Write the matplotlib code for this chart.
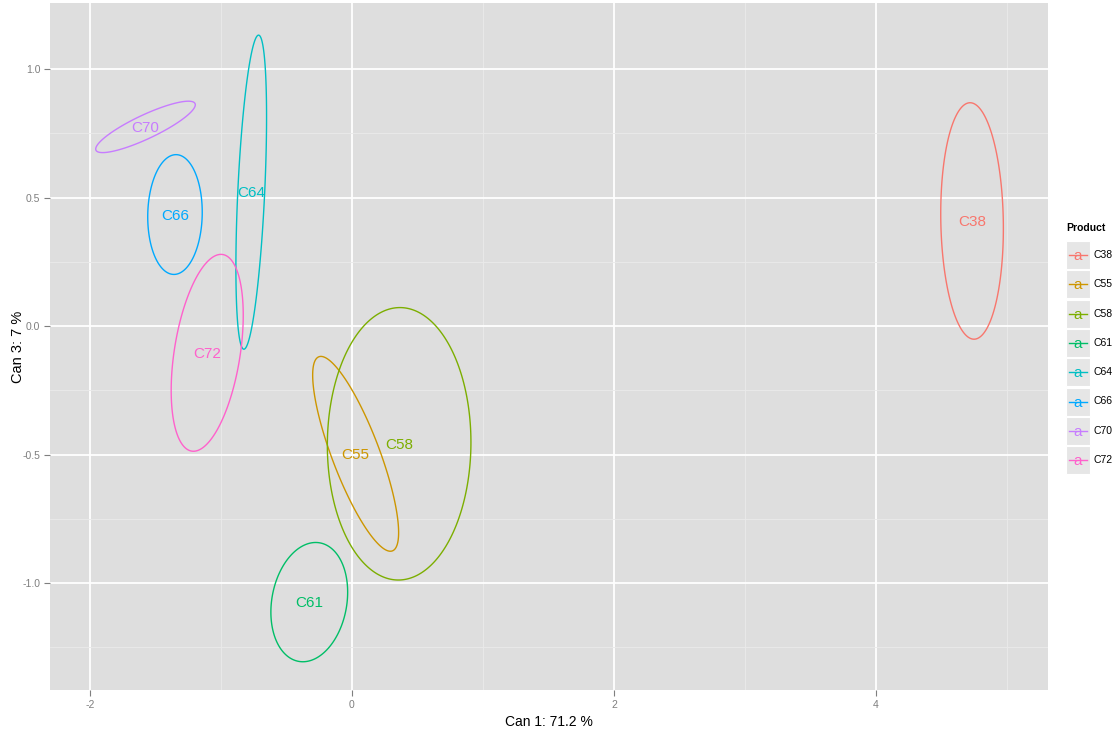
import numpy as np
import matplotlib
matplotlib.use("Agg")
from matplotlib import pyplot as plt
from matplotlib.patches import Rectangle

plt.rcParams['font.family'] = ['Liberation Sans', 'DejaVu Sans']

# ellipse summaries (canonical scores)
products = ['C38', 'C55', 'C58', 'C61', 'C64', 'C66', 'C70', 'C72']
center_x = [4.733, 0.028, 0.360, -0.326, -0.769, -1.351, -1.576, -1.105]
center_y = [0.409, -0.497, -0.458, -1.074, 0.521, 0.434, 0.775, -0.104]
half_w = [0.239, 0.328, 0.548, 0.293, 0.117, 0.208, 0.380, 0.275]
half_h = [0.460, 0.379, 0.530, 0.232, 0.611, 0.233, 0.100, 0.383]
top_dx = [-0.015, -0.265, 0.006, 0.049, 0.056, 0.008, 0.327, 0.105]
colors = ['#F8766D', '#CD9600', '#7CAE00', '#00BE67',
          '#00BFC4', '#00A9FF', '#C77CFF', '#FF61CC']

x_ticks = [-2, 0, 2, 4]
y_ticks = [-1.0, -0.5, 0.0, 0.5, 1.0]

fig = plt.figure(figsize=(11.16, 7.35), dpi=100)
ax = fig.add_axes([0.0448, 0.0612, 0.8943, 0.9347])
ax.set_facecolor('#DEDEDE')

t = np.linspace(0, 2 * np.pi, 300, endpoint=False)
for i, p in enumerate(products):
    delta = np.arccos(top_dx[i] / half_w[i])
    ex = center_x[i] + half_w[i] * np.cos(t)
    ey = center_y[i] + half_h[i] * np.cos(t - delta)
    ax.fill(ex, ey, fill=False, edgecolor=colors[i], lw=1.0, zorder=3,
            joinstyle='round')
    ax.text(center_x[i], center_y[i] - 0.005, p, color=colors[i], fontsize=11,
            ha='center', va='center', zorder=4)

ax.set_xlim(-2.305, 5.313)
ax.set_ylim(-1.416, 1.257)
ax.set_xticks(x_ticks)
ax.set_xticklabels([str(v) for v in x_ticks])
ax.set_yticks(y_ticks)
ax.set_yticklabels(['%.1f' % v for v in y_ticks])
ax.set_xticks([-1, 1, 3, 5], minor=True)
ax.set_yticks([-1.25, -0.75, -0.25, 0.25, 0.75], minor=True)
ax.grid(which='major', color='white', lw=1.3, zorder=1)
ax.grid(which='minor', color='#EAEAEA', lw=0.6, zorder=1)
ax.set_axisbelow(True)
ax.tick_params(which='major', length=4, width=0.8, color='#7F7F7F',
               labelcolor='#7F7F7F', labelsize=7.5, pad=3)
ax.tick_params(which='minor', length=0)
for s in ax.spines.values():
    s.set_visible(False)
ax.set_xlabel('Can 1: 71.2 %', fontsize=10, labelpad=4)
ax.set_ylabel('Can 3: 7 %', fontsize=10.5, labelpad=-2)

# legend drawn by hand in ggplot style
W, H = 1116.0, 735.0
fig.text(1066 / W, 1 - 228 / H, 'Product', fontsize=7.5, fontweight='bold',
         ha='left', va='center')
for i, p in enumerate(products):
    yc = 255 + i * 29.3
    fig.patches.append(Rectangle((1066 / W, 1 - (yc + 14) / H), 24 / W, 28 / H,
                                 transform=fig.transFigure, facecolor='#E6E6E6',
                                 edgecolor='white', lw=0.8))
    fig.lines.append(plt.Line2D([1069 / W, 1087 / W], [1 - yc / H, 1 - yc / H],
                                transform=fig.transFigure, color=colors[i], lw=1.0))
    fig.text(1078 / W, 1 - (yc + 1) / H, 'a', color=colors[i], fontsize=11,
             ha='center', va='center')
    fig.text(1094 / W, 1 - yc / H, p, fontsize=7.5, ha='left', va='center')

fig.savefig('out.png', dpi=100)
